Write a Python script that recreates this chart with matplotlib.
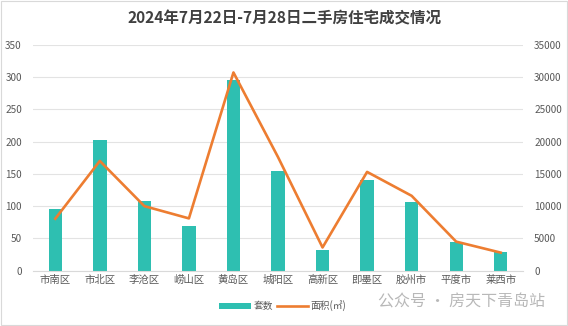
import matplotlib.pyplot as plt
from matplotlib.patches import Rectangle

plt.rcParams['font.family'] = ['Noto Sans CJK SC', 'DejaVu Sans']
plt.rcParams['axes.unicode_minus'] = False

districts = ['市南区', '市北区', '李沧区', '崂山区', '黄岛区', '城阳区',
             '高新区', '即墨区', '胶州市', '平度市', '莱西市']
units = [96, 203, 108, 69, 295, 155, 32, 140, 106, 44, 29]
area = [8050, 17000, 10000, 8100, 30700, 17600, 3600, 15300, 11600, 4500, 2800]

bar_color = '#2EBFB1'
line_color = '#ED7D31'
tick_color = '#595959'

fig = plt.figure(figsize=(5.68, 3.26), dpi=100)
ax = fig.add_axes([33 / 568, 1 - 270.7 / 326, 490 / 568, 226 / 326])
ax2 = ax.twinx()

x = list(range(len(districts)))
ax.bar(x, units, width=0.3, color=bar_color, label='套数', zorder=2)
ax2.plot(x, area, color=line_color, linewidth=1.9, label='面积(㎡)', zorder=3)

ax.set_ylim(0, 350)
ax2.set_ylim(0, 35000)
ax.set_xlim(-0.5, len(districts) - 0.5)
ax.set_yticks(range(0, 351, 50))
ax2.set_yticks(range(0, 35001, 5000))
ax.set_xticks(x)
ax.set_xticklabels(districts, fontsize=7.5, color=tick_color)
ax.tick_params(axis='y', labelsize=7.2, colors=tick_color, length=0, pad=8)
ax2.tick_params(axis='y', labelsize=7.2, colors=tick_color, length=0, pad=8)
ax.tick_params(axis='x', length=0, pad=3)

ax.grid(axis='y', color='#E3E3E3', linewidth=0.8, zorder=0)
ax.set_axisbelow(True)
for a in (ax, ax2):
    for s in a.spines.values():
        s.set_visible(False)
ax.spines['bottom'].set_visible(True)
ax.spines['bottom'].set_color('#D9D9D9')

fig.text(284 / 568, 1 - 18 / 326, '2024年7月22日-7月28日二手房住宅成交情况',
         ha='center', va='center', fontsize=11.2, fontweight='bold', color='#404040')

h1, l1 = ax.get_legend_handles_labels()
h2, l2 = ax2.get_legend_handles_labels()
fig.legend(h1 + h2, l1 + l2, loc='center', bbox_to_anchor=(283 / 568, 1 - 306 / 326),
           ncol=2, frameon=False, fontsize=7, handlelength=3.2, handletextpad=0.3,
           columnspacing=0.4, labelcolor=tick_color)

fig.text(378 / 568, 1 - 302 / 326, '公众号 · 房天下青岛站', ha='left', va='center',
         fontsize=11.5, color='#B8B8B8')

fig.patches.append(Rectangle((0.002, 0.003), 0.996, 0.994, transform=fig.transFigure,
                             fill=False, edgecolor='#D9D9D9', linewidth=0.8))

fig.savefig('out.png', dpi=100)
